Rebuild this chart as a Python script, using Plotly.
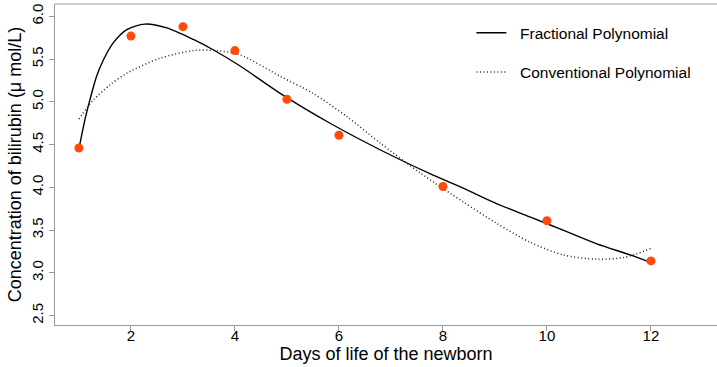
import plotly.graph_objects as go

# Observed data
days = [1, 2, 3, 4, 5, 6, 8, 10, 12]
bilirubin = [4.46, 5.77, 5.88, 5.60, 5.03, 4.61, 4.01, 3.61, 3.14]

# Fractional polynomial curve
fp_x = [1.0, 1.115, 1.21, 1.34, 1.47, 1.66, 1.92, 2.27, 2.69, 3.2, 3.58, 4.1, 4.87, 5.83, 6.79, 7.75, 8.39, 9.03, 9.67, 10.31, 10.96, 11.6, 12.0]
fp_y = [4.45, 4.79, 5.02, 5.30, 5.49, 5.69, 5.845, 5.91, 5.865, 5.73, 5.61, 5.42, 5.10, 4.75, 4.44, 4.16, 3.99, 3.81, 3.655, 3.50, 3.34, 3.21, 3.12]

# Conventional polynomial curve
cp_x = [1.0, 1.275, 1.6, 1.92, 2.56, 3.2, 3.65, 4.1, 4.87, 5.5, 6.15, 6.79, 7.56, 8.39, 9.03, 9.67, 10.31, 10.96, 11.48, 12.0]
cp_y = [4.80, 5.02, 5.20, 5.335, 5.51, 5.60, 5.60, 5.55, 5.30, 5.10, 4.83, 4.52, 4.17, 3.83, 3.58, 3.36, 3.21, 3.16, 3.18, 3.285]

x_ticks = [2, 4, 6, 8, 10, 12]
y_ticks = [2.5, 3.0, 3.5, 4.0, 4.5, 5.0, 5.5, 6.0]
x_range = [0.54, 13.27]

FONT = "Liberation Sans, Arial, sans-serif"
NB = "\u00a0\u00a0"

fig = go.Figure()
fig.add_trace(go.Scatter(x=fp_x, y=fp_y, mode="lines", name=NB + "Fractional Polynomial",
                         line=dict(color="black", width=1.4, shape="spline", smoothing=0.8),
                         legendgroup="a"))
fig.add_trace(go.Scatter(x=cp_x, y=cp_y, mode="lines", name=NB + "Conventional Polynomial",
                         line=dict(color="#222222", width=1.5, dash="1px,2.5px", shape="spline", smoothing=0.8),
                         legendgroup="b"))
fig.add_trace(go.Scatter(x=days, y=bilirubin, mode="markers", showlegend=False,
                         marker=dict(color="#FF4A0A", size=9)))
# invisible trace carrying the label axis
fig.add_trace(go.Scatter(x=days, y=bilirubin, mode="markers", showlegend=False,
                         xaxis="x2", marker=dict(opacity=0), hoverinfo="skip"))

axis_common = dict(showgrid=False, zeroline=False, showline=True, linecolor="#999999",
                   linewidth=1.2, ticks="outside", tickcolor="#999999", ticklen=5,
                   tickfont=dict(family=FONT, size=15, color="black"))

fig.update_layout(
    width=717, height=367,
    margin=dict(l=55, r=0, t=4, b=42),
    paper_bgcolor="white", plot_bgcolor="white",
    font=dict(family=FONT, color="black"),
    xaxis=dict(range=x_range, tickvals=x_ticks, showticklabels=False, **axis_common),
    xaxis2=dict(range=x_range, tickvals=x_ticks, overlaying="x", side="bottom",
                showgrid=False, zeroline=False, showline=False, ticks="",
                tickfont=dict(family=FONT, size=15, color="black"),
                title=dict(text="Days of life of the newborn", font=dict(size=18), standoff=0)),
    yaxis=dict(range=[2.39, 6.145], tickvals=y_ticks, tickformat=".1f", tickangle=-90,
               title=dict(text="Concentration of bilirubin (\u03bc mol/L)", font=dict(size=18), standoff=2),
               **axis_common),
    legend=dict(x=0.629, y=0.962, xanchor="left", yanchor="top", bgcolor="rgba(0,0,0,0)",
                font=dict(family=FONT, size=15.5), tracegroupgap=16, traceorder="grouped"),
    shapes=[dict(type="line", xref="paper", yref="paper", x0=0, x1=1, y0=1, y1=1,
                 line=dict(color="#999999", width=1.2))],
)

fig.write_html("out.html")
